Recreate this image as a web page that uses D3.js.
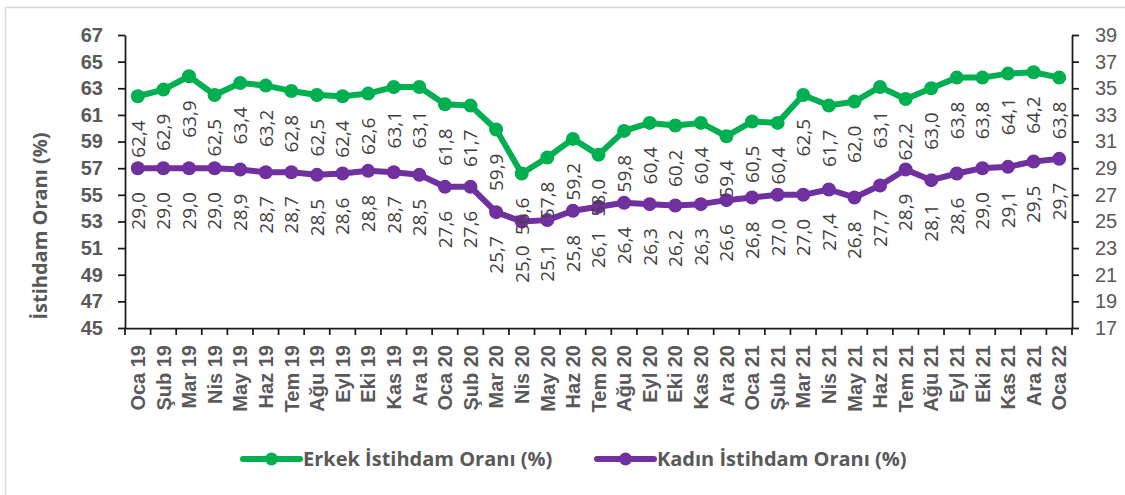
<!DOCTYPE html>
<html>
<head>
<meta charset="utf-8">
<script src="https://cdn.jsdelivr.net/npm/d3@7"></script>
<style>
  body { margin: 0; background: #fff; }
  svg { font-family: 'Open Sans', sans-serif; }
</style>
</head>
<body>
<svg width="1125" height="495"></svg>
<script>
// months on the x axis
const months = [
  'Oca 19', 'Şub 19', 'Mar 19', 'Nis 19', 'May 19', 'Haz 19', 'Tem 19', 'Ağu 19', 'Eyl 19', 'Eki 19', 'Kas 19', 'Ara 19',
  'Oca 20', 'Şub 20', 'Mar 20', 'Nis 20', 'May 20', 'Haz 20', 'Tem 20', 'Ağu 20', 'Eyl 20', 'Eki 20', 'Kas 20', 'Ara 20',
  'Oca 21', 'Şub 21', 'Mar 21', 'Nis 21', 'May 21', 'Haz 21', 'Tem 21', 'Ağu 21', 'Eyl 21', 'Eki 21', 'Kas 21', 'Ara 21',
  'Oca 22'
];

// erkek (left axis)
const maleRate = [
  62.4, 62.9, 63.9, 62.5, 63.4, 63.2, 62.8, 62.5, 62.4, 62.6, 63.1, 63.1,
  61.8, 61.7, 59.9, 56.6, 57.8, 59.2, 58.0, 59.8, 60.4, 60.2, 60.4, 59.4,
  60.5, 60.4, 62.5, 61.7, 62.0, 63.1, 62.2, 63.0, 63.8, 63.8, 64.1, 64.2,
  63.8
];

// kadın (right axis)
const femaleRate = [
  29.0, 29.0, 29.0, 29.0, 28.9, 28.7, 28.7, 28.5, 28.6, 28.8, 28.7, 28.5,
  27.6, 27.6, 25.7, 25.0, 25.1, 25.8, 26.1, 26.4, 26.3, 26.2, 26.3, 26.6,
  26.8, 27.0, 27.0, 27.4, 26.8, 27.7, 28.9, 28.1, 28.6, 29.0, 29.1, 29.5,
  29.7
];

const leftTicks = [45, 47, 49, 51, 53, 55, 57, 59, 61, 63, 65, 67];
const rightTicks = [17, 19, 21, 23, 25, 27, 29, 31, 33, 35, 37, 39];

const svg = d3.select('svg');
const textColor = '#595959';
const green = '#00B050';
const purple = '#7030A0';

// outer chart border
svg.append('rect')
  .attr('x', 5.5).attr('y', 7.5)
  .attr('width', 1130).attr('height', 500)
  .attr('fill', 'none').attr('stroke', '#d9d9d9').attr('stroke-width', 1.5);

const plotLeft = 125, plotRight = 1072, plotTop = 35, plotBottom = 328;

const x = d3.scaleBand().domain(months).range([plotLeft, plotRight]);
const yL = d3.scaleLinear().domain([45, 67]).range([plotBottom, plotTop]);
const yR = d3.scaleLinear().domain([17, 39]).range([plotBottom, plotTop]);
const cx = (d, i) => x(months[i]) + x.bandwidth() / 2;

// left axis
const gL = svg.append('g')
  .attr('transform', `translate(${plotLeft},0)`)
  .call(d3.axisLeft(yL).tickValues(leftTicks).tickSize(7).tickPadding(15).tickSizeOuter(0));
gL.selectAll('text')
  .attr('fill', textColor).attr('font-size', 20).attr('font-weight', 'bold');

// right axis
const gR = svg.append('g')
  .attr('transform', `translate(${plotRight},0)`)
  .call(d3.axisRight(yR).tickValues(rightTicks).tickSize(7).tickPadding(16).tickSizeOuter(0));
gR.selectAll('text')
  .attr('fill', textColor).attr('font-size', 20);

// bottom axis: labels at band centres, ticks at band edges
const gB = svg.append('g')
  .attr('transform', `translate(0,${plotBottom})`)
  .call(d3.axisBottom(x).tickSize(0).tickSizeOuter(0));
gB.selectAll('text')
  .attr('fill', textColor).attr('font-size', 20).attr('font-weight', 'bold')
  .attr('transform', 'rotate(-90)')
  .attr('text-anchor', 'end')
  .attr('x', -17).attr('y', 0).attr('dy', '0.36em');
gB.selectAll('.edge')
  .data(months.map((m) => x(m)).concat([plotRight]))
  .enter().append('line')
  .attr('class', 'edge')
  .attr('x1', (d) => d).attr('x2', (d) => d)
  .attr('y1', 0).attr('y2', 7);

[gL, gR, gB].forEach((g) => {
  g.selectAll('path, line').attr('stroke', '#1a1a1a').attr('stroke-width', 1.75);
});

// y title
svg.append('text')
  .attr('transform', 'translate(40,226) rotate(-90)')
  .attr('text-anchor', 'middle')
  .attr('dy', '0.36em')
  .attr('fill', textColor).attr('font-size', 20).attr('font-weight', 'bold')
  .text('İstihdam Oranı (%)');

function drawSeries(values, y, color) {
  const line = d3.line().x(cx).y((d) => y(d));
  svg.append('path')
    .datum(values)
    .attr('d', line)
    .attr('fill', 'none')
    .attr('stroke', color)
    .attr('stroke-width', 6)
    .attr('stroke-linejoin', 'round');

  svg.append('g').selectAll('circle')
    .data(values)
    .enter().append('circle')
    .attr('cx', cx)
    .attr('cy', (d) => y(d))
    .attr('r', 7)
    .attr('fill', color);
}

function drawLabels(values, y) {
  svg.append('g').selectAll('text')
    .data(values)
    .enter().append('text')
    .attr('transform', (d, i) => `translate(${cx(d, i)},${y(d) + 24}) rotate(-90)`)
    .attr('text-anchor', 'end')
    .attr('dy', '0.36em')
    .attr('fill', '#404040')
    .attr('font-size', 19)
    .text((d) => d3.format('.1f')(d).replace('.', ','));
}

drawSeries(maleRate, yL, green);
drawSeries(femaleRate, yR, purple);
drawLabels(maleRate, yL);
drawLabels(femaleRate, yR);

// legend
const legend = [
  { name: 'Erkek İstihdam Oranı (%)', color: green, x: 243 },
  { name: 'Kadın İstihdam Oranı (%)', color: purple, x: 597 }
];
const lg = svg.append('g').selectAll('g')
  .data(legend)
  .enter().append('g')
  .attr('transform', (d) => `translate(${d.x},459)`);
lg.append('line')
  .attr('x1', 0).attr('x2', 57)
  .attr('stroke', (d) => d.color).attr('stroke-width', 6).attr('stroke-linecap', 'round');
lg.append('circle')
  .attr('cx', 28.5).attr('r', 6.5)
  .attr('fill', (d) => d.color);
lg.append('text')
  .attr('x', 60).attr('dy', '0.36em')
  .attr('fill', textColor).attr('font-size', 20).attr('font-weight', 'bold')
  .text((d) => d.name);
</script>
</body>
</html>
